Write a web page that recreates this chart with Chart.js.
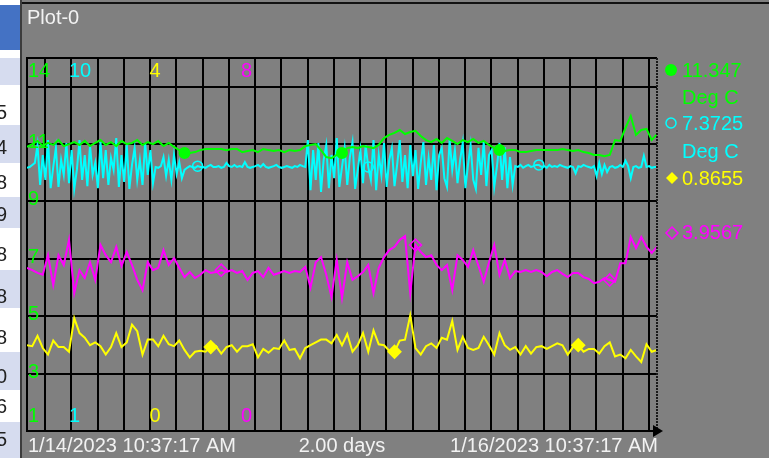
<!DOCTYPE html>
<html>
<head>
<meta charset="utf-8">
<title>Plot-0</title>
<script src="https://cdn.jsdelivr.net/npm/chart.js@4.4.1/dist/chart.umd.min.js"></script>
<style>
  html, body { margin: 0; padding: 0; background: #808080; overflow: hidden; }
  #plot { display: block; }
</style>
</head>
<body>
<canvas id="plot" width="769" height="458"></canvas>
<script>
// time axis is hours since 1/14/2023 10:37:17 AM
const plotTitle = 'Plot-0';
const startLabel = '1/14/2023 10:37:17 AM';
const endLabel = '1/16/2023 10:37:17 AM';
const spanLabel = '2.00 days';
const spanHours = 48;
const sampleStep = 0.4;   // green, yellow, magenta
const cyanStep = 0.2;     // cyan is logged twice as often
const firstGridHour = 1.3786; // 12:00 PM on the first day
const gridStepHours = 2;

// axis ranges and the labels printed inside the plot
const greenRange = [1, 14];
const cyanRange = [1, 10];
const yellowRange = [0, 4];
const magentaRange = [0, 8];
const greenTicks = [14, 11, 9, 7, 5, 3, 1];
const cyanTicks = [10, 1];
const yellowTicks = [4, 0];
const magentaTicks = [8, 0];
const greenGrid = [1, 3, 5, 7, 9, 11, 13, 14];

// current readings shown at the right
const legendValues = ['11.347', '7.3725', '0.8655', '3.9567'];
const legendUnits = ['Deg C', 'Deg C', '', ''];

// the table behind the plot window (only its right edge is visible)
const sideDigits = ['5', '4', '8', '9', '8', '8', '8', '0', '6', '5'];

const greenDegC = [
  10.90, 11.00, 11.11, 10.93, 11.04, 10.97, 11.14, 10.93, 11.00, 11.07,
  10.97, 11.11, 10.93, 11.04, 11.14, 10.97, 11.07, 10.93, 11.11, 11.00,
  11.04, 11.14, 10.97, 11.07, 11.00, 11.11, 10.93, 11.04, 10.90, 10.79,
  10.69, 10.69, 10.72, 10.79, 10.83, 10.83, 10.83, 10.83, 10.79, 10.83,
  10.83, 10.72, 10.76, 10.79, 10.72, 10.83, 10.79, 10.76, 10.79, 10.72,
  10.79, 10.76, 10.79, 10.93, 10.97, 11.00, 10.79, 10.55, 10.51, 10.62,
  10.69, 10.86, 10.90, 10.86, 10.93, 10.90, 10.86, 10.97, 11.21, 11.32,
  11.39, 11.49, 11.35, 11.42, 11.46, 11.28, 11.14, 11.07, 11.18, 11.04,
  11.21, 11.11, 11.00, 11.14, 11.07, 11.18, 11.04, 11.11, 10.97, 10.86,
  10.79, 10.76, 10.79, 10.79, 10.72, 10.72, 10.76, 10.79, 10.79, 10.79,
  10.79, 10.79, 10.83, 10.79, 10.76, 10.79, 10.72, 10.69, 10.62, 10.62,
  10.58, 10.62, 11.14, 11.11, 11.56, 11.98, 11.32, 11.49, 11.53, 11.14,
  11.35
];

const cyanDegC = [
  7.35, 7.37, 7.42, 7.47,
  7.90, 6.94, 7.66, 7.06, 8.02, 6.86, 7.37, 7.83, 6.89, 7.54,
  7.18, 7.95, 6.98, 7.78, 6.84, 7.30, 8.02, 7.06, 7.66, 6.91,
  7.90, 7.18, 7.47, 6.86, 7.97, 7.10, 7.78, 6.94, 7.59, 7.30,
  8.07, 6.89, 7.66, 7.01, 7.90, 6.84, 7.42, 7.83, 7.06, 7.54,
  6.94, 7.95, 7.18, 7.78, 6.98,
  7.37, 7.35, 7.39,
  7.61, 7.15, 7.54, 7.06, 7.66, 7.20, 7.49, 7.10,
  7.30, 7.35, 7.39, 7.37, 7.35, 7.39, 7.37, 7.37, 7.35, 7.39,
  7.42, 7.37, 7.37, 7.39, 7.35, 7.37, 7.47, 7.39, 7.37, 7.42,
  7.37, 7.39, 7.37, 7.49, 7.37, 7.35, 7.37, 7.39, 7.42, 7.37,
  7.44, 7.37, 7.35, 7.37, 7.39, 7.42, 7.37, 7.35, 7.37, 7.39,
  7.37, 7.35, 7.39, 7.37, 7.42, 7.39, 7.37,
  8.02, 6.81, 7.78, 7.06, 7.95, 6.77, 7.54, 7.90, 6.86, 7.66,
  7.10, 8.07, 6.89, 7.37, 7.83, 6.94, 7.61, 7.97, 6.84, 7.30,
  7.78, 6.98, 7.90, 7.37, 7.06, 8.02, 6.81, 7.66, 7.18, 7.95,
  6.89, 7.54, 7.83, 6.91, 7.42, 8.02, 7.01, 7.66, 6.86, 7.90,
  7.15, 7.78, 6.84, 7.47, 7.97, 6.94, 7.59, 7.06, 7.90, 6.81,
  7.66, 7.83, 7.10, 6.89, 8.02, 7.30, 7.78, 6.98, 7.54, 7.95,
  6.86, 7.42, 7.90, 7.06, 6.84, 7.83, 7.18, 7.97, 6.91, 7.66,
  7.78, 6.89, 7.37, 7.95, 7.06, 7.85, 6.86, 7.61, 6.94, 7.39,
  7.37, 7.42, 7.35, 7.39, 7.42, 7.37, 7.39, 7.42, 7.42, 7.37,
  7.39, 7.35, 7.42, 7.37, 7.39, 7.37, 7.42, 7.39, 7.37, 7.35,
  7.39, 7.37, 7.22, 7.39, 7.37, 7.42, 7.39, 7.37, 7.35, 7.39,
  7.15, 7.47, 7.20, 7.42, 7.25, 7.37, 7.39, 7.35, 7.37, 7.42,
  7.37, 7.52, 7.39, 7.10, 7.37, 7.39, 7.35, 7.37, 7.64, 7.37,
  7.39, 7.35, 7.37, 7.37
];

const yellowValues = [
  0.92, 0.91, 1.02, 0.89, 0.82, 0.97, 0.90, 0.90, 0.85, 1.21,
  1.05, 1.00, 0.92, 0.95, 0.91, 0.82, 0.90, 1.05, 0.90, 0.95,
  1.14, 1.07, 0.82, 0.98, 0.98, 0.91, 1.02, 0.93, 0.91, 0.97,
  0.87, 0.79, 0.85, 0.86, 0.85, 0.90, 0.91, 0.83, 0.90, 0.92,
  0.85, 0.91, 0.91, 0.93, 0.79, 0.88, 0.84, 0.89, 0.88, 0.97,
  0.87, 0.88, 0.78, 0.89, 0.92, 0.95, 0.98, 0.98, 0.94, 1.03,
  0.92, 1.04, 0.85, 0.92, 1.05, 0.85, 1.08, 0.93, 0.92, 0.86,
  0.85, 0.97, 0.98, 1.24, 0.89, 0.82, 0.91, 0.94, 0.89, 1.00,
  0.98, 1.18, 0.87, 1.01, 0.89, 0.87, 0.89, 1.01, 0.92, 0.82,
  1.05, 0.92, 0.87, 0.90, 0.82, 0.91, 0.83, 0.90, 0.91, 0.88,
  0.91, 0.94, 0.92, 0.82, 0.90, 0.92, 0.85, 0.88, 0.88, 0.83,
  0.91, 0.95, 0.80, 0.82, 0.78, 0.87, 0.80, 0.74, 0.93, 0.85,
  0.87
];

const magentaValues = [
  3.50, 3.45, 3.39, 3.35, 3.77, 3.13, 3.77, 3.56, 4.10, 2.96,
  3.45, 3.28, 3.62, 3.24, 3.99, 3.77, 3.62, 3.95, 3.54, 3.84,
  3.56, 3.24, 3.02, 3.62, 3.45, 3.50, 3.88, 3.56, 3.71, 3.50,
  3.30, 3.41, 3.28, 3.35, 3.45, 3.39, 3.41, 3.45, 3.41, 3.45,
  3.39, 3.43, 3.24, 3.39, 3.43, 3.30, 3.50, 3.35, 3.39, 3.43,
  3.39, 3.43, 3.41, 3.52, 3.07, 3.62, 3.73, 3.35, 2.87, 3.67,
  2.85, 3.62, 3.24, 3.32, 3.41, 3.56, 2.96, 3.50, 3.73, 3.88,
  3.95, 4.10, 4.18, 2.96, 3.99, 3.84, 3.73, 3.77, 3.56, 3.45,
  3.56, 3.02, 3.77, 3.67, 3.52, 3.88, 3.54, 3.20, 3.62, 3.99,
  3.35, 3.67, 3.28, 3.43, 3.41, 3.45, 3.41, 3.45, 3.41, 3.32,
  3.41, 3.45, 3.37, 3.30, 3.39, 3.39, 3.30, 3.26, 3.17, 3.20,
  3.28, 3.24, 3.20, 3.60, 3.60, 4.16, 3.92, 4.16, 3.95, 3.82,
  3.95
];

// sample indexes that carry a marker symbol
const greenMarks = [30, 60, 90];
const cyanMarks = [65, 130, 195];
const yellowMarks = [35, 70, 105];
const magentaMarks = [37, 74, 111];

const GREEN = '#00ff00';
const CYAN = '#00ffff';
const YELLOW = '#ffff00';
const MAGENTA = '#ff00ff';
const FONT = '20px "Liberation Sans", Arial, sans-serif';

function toPoints(values, step) {
    return values.map((v, i) => ({ x: i * step, y: v }));
}

function markRadius(marks, r) {
    return ctx => marks.includes(ctx.dataIndex) ? r : 0;
}

function drawSymbol(c, kind, filled, x, y, r, color) {
    c.beginPath();
    if (kind === 'circle') {
        c.arc(x, y, r, 0, Math.PI * 2);
    } else {
        c.moveTo(x, y - r);
        c.lineTo(x + r, y);
        c.lineTo(x, y + r);
        c.lineTo(x - r, y);
        c.closePath();
    }
    if (filled) {
        c.fillStyle = color;
        c.fill();
    } else {
        c.strokeStyle = color;
        c.lineWidth = 1.5;
        c.stroke();
    }
}

const plotFrame = {
    id: 'plotFrame',
    beforeDraw(chart) {
        const c = chart.ctx;
        c.save();
        c.fillStyle = '#808080';
        c.fillRect(0, 0, chart.width, chart.height);

        // table stub on the far left
        c.fillStyle = '#ffffff';
        c.fillRect(0, 0, 20, chart.height);
        c.fillStyle = '#4472c4';
        c.fillRect(0, 5, 20, 45);
        c.fillStyle = '#d6dcef';
        c.fillRect(0, 58, 20, 27);
        const rows = [[88, 123], [125, 163], [165, 195], [197, 228], [230, 268],
                      [270, 308], [310, 350], [352, 390], [392, 420], [422, 458]];
        const rowMid = [113, 148, 183, 215, 255, 297, 338, 377, 407, 440];
        rows.forEach((r, i) => {
            c.fillStyle = i % 2 ? '#d6dcef' : '#ffffff';
            c.fillRect(0, r[0], 20, r[1] - r[0]);
        });
        c.font = FONT;
        c.fillStyle = '#222222';
        c.textAlign = 'right';
        c.textBaseline = 'middle';
        sideDigits.forEach((d, i) => c.fillText(d, 7, rowMid[i]));

        // window edges
        c.fillStyle = '#3c3c3c';
        c.fillRect(20, 0, 2, chart.height);
        c.fillStyle = '#111111';
        c.fillRect(22, 2, chart.width - 22, 2);
        c.restore();
    },
    afterDraw(chart) {
        const c = chart.ctx;
        const area = chart.chartArea;
        c.save();

        // dotted right edge and the arrow at the end of the time axis
        c.strokeStyle = '#1a1a1a';
        c.lineWidth = 2;
        c.setLineDash([2, 1]);
        c.beginPath();
        c.moveTo(area.right, area.top);
        c.lineTo(area.right, area.bottom);
        c.stroke();
        c.setLineDash([]);
        c.fillStyle = '#000000';
        c.beginPath();
        c.moveTo(area.right - 4, area.bottom - 6);
        c.lineTo(area.right + 6, area.bottom);
        c.lineTo(area.right - 4, area.bottom + 6);
        c.closePath();
        c.fill();

        c.font = FONT;
        c.textBaseline = 'alphabetic';

        // title
        c.fillStyle = '#f2f2f2';
        c.textAlign = 'left';
        c.fillText(plotTitle, 27, 24);

        // time labels
        c.fillText(startLabel, area.left + 1, area.bottom + 21);
        c.textAlign = 'center';
        c.fillText(spanLabel, (area.left + area.right) / 2, area.bottom + 21);
        c.textAlign = 'right';
        c.fillText(endLabel, area.right + 1, area.bottom + 21);

        // value labels inside the plot
        const axisLabels = [
            { id: 'yGreen', ticks: greenTicks, color: GREEN, dx: 1 },
            { id: 'yCyan', ticks: cyanTicks, color: CYAN, dx: 42 },
            { id: 'yYellow', ticks: yellowTicks, color: YELLOW, dx: 122.5 },
            { id: 'yMagenta', ticks: magentaTicks, color: MAGENTA, dx: 214 }
        ];
        c.textAlign = 'left';
        axisLabels.forEach(a => {
            const s = chart.scales[a.id];
            c.fillStyle = a.color;
            a.ticks.forEach(v => {
                let y = s.getPixelForValue(v) + 4;
                if (v === s.max) y = area.top + 19;
                if (v === s.min) y = area.bottom - 9;
                c.fillText(String(v), area.left + a.dx, y);
            });
        });

        // current values at the right
        const mx = area.right + 14;
        const tx = area.right + 25;
        drawSymbol(c, 'circle', true, mx, 70, 6, GREEN);
        drawSymbol(c, 'circle', false, mx, 123, 5, CYAN);
        drawSymbol(c, 'diamond', true, mx + 1, 178, 6, YELLOW);
        drawSymbol(c, 'diamond', false, mx + 1, 233, 6, MAGENTA);
        c.fillStyle = GREEN;
        c.fillText(legendValues[0], tx, 77);
        c.fillText(legendUnits[0], tx, 104);
        c.fillStyle = CYAN;
        c.fillText(legendValues[1], tx, 130);
        c.fillText(legendUnits[1], tx, 158);
        c.fillStyle = YELLOW;
        c.fillText(legendValues[2], tx, 185);
        c.fillStyle = MAGENTA;
        c.fillText(legendValues[3], tx, 239);
        c.restore();
    }
};

const gridHours = [];
for (let h = firstGridHour; h < spanHours; h += gridStepHours) gridHours.push(h);

new Chart(document.getElementById('plot'), {
    type: 'line',
    data: {
        datasets: [
            {
                label: 'green',
                data: toPoints(greenDegC, sampleStep),
                yAxisID: 'yGreen',
                borderColor: GREEN,
                borderWidth: 2,
                pointStyle: 'circle',
                pointRadius: markRadius(greenMarks, 5),
                pointBackgroundColor: GREEN,
                pointBorderColor: GREEN
            },
            {
                label: 'cyan',
                data: toPoints(cyanDegC, cyanStep),
                yAxisID: 'yCyan',
                borderColor: CYAN,
                borderWidth: 2,
                pointStyle: 'circle',
                pointRadius: markRadius(cyanMarks, 5),
                pointBackgroundColor: 'rgba(0,0,0,0)',
                pointBorderColor: CYAN,
                pointBorderWidth: 1.5
            },
            {
                label: 'yellow',
                data: toPoints(yellowValues, sampleStep),
                yAxisID: 'yYellow',
                borderColor: YELLOW,
                borderWidth: 2,
                pointStyle: 'rectRot',
                pointRadius: markRadius(yellowMarks, 6),
                pointBackgroundColor: YELLOW,
                pointBorderColor: YELLOW
            },
            {
                label: 'magenta',
                data: toPoints(magentaValues, sampleStep),
                yAxisID: 'yMagenta',
                borderColor: MAGENTA,
                borderWidth: 2,
                pointStyle: 'rectRot',
                pointRadius: markRadius(magentaMarks, 6),
                pointBackgroundColor: 'rgba(0,0,0,0)',
                pointBorderColor: MAGENTA,
                pointBorderWidth: 1.5
            }
        ]
    },
    options: {
        responsive: false,
        animation: false,
        events: [],
        layout: { padding: { left: 27, top: 58, right: 112, bottom: 27 } },
        elements: { line: { tension: 0 } },
        plugins: {
            legend: { display: false },
            title: { display: false },
            tooltip: { enabled: false }
        },
        scales: {
            x: {
                type: 'linear',
                min: 0,
                max: spanHours,
                ticks: { display: false },
                grid: { color: '#000000', lineWidth: 2, drawTicks: false },
                border: { display: true, color: '#000000', width: 2 },
                afterBuildTicks: axis => { axis.ticks = gridHours.map(v => ({ value: v })); }
            },
            yGreen: {
                position: 'left',
                min: greenRange[0],
                max: greenRange[1],
                ticks: { display: false },
                grid: { color: '#000000', lineWidth: 2, drawTicks: false },
                border: { display: true, color: '#000000', width: 2 },
                afterBuildTicks: axis => { axis.ticks = greenGrid.map(v => ({ value: v })); }
            },
            yCyan: { display: false, min: cyanRange[0], max: cyanRange[1] },
            yYellow: { display: false, min: yellowRange[0], max: yellowRange[1] },
            yMagenta: { display: false, min: magentaRange[0], max: magentaRange[1] }
        }
    },
    plugins: [plotFrame]
});
</script>
</body>
</html>
